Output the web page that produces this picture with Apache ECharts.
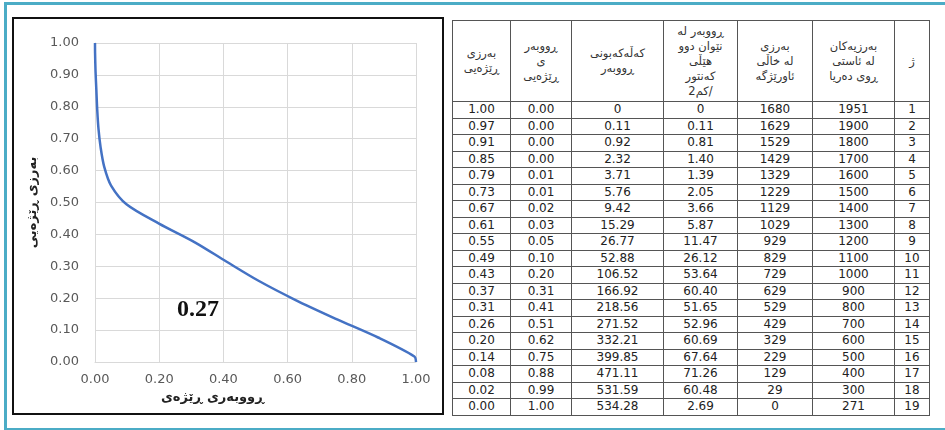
<!DOCTYPE html>
<html>
<head>
<meta charset="utf-8">
<script src="https://cdn.jsdelivr.net/npm/echarts@6/dist/echarts.min.js"></script>
<style>
html,body{margin:0;padding:0;background:#fff;width:945px;height:430px;overflow:hidden;}
#frame{position:absolute;left:4px;top:2px;width:960px;height:423px;border-left:3px solid #4bacc6;border-top:3px solid #4bacc6;border-bottom:3px solid #4bacc6;box-sizing:content-box;}
#chart{position:absolute;left:12px;top:17px;width:432px;height:398px;border:2px solid #111;box-sizing:border-box;background:#fff;}
#tbl{position:absolute;left:452px;top:20px;width:477px;border-collapse:collapse;table-layout:fixed;font-family:"DejaVu Sans",Verdana,sans-serif;color:#222;}
#tbl td{border:1px solid #555;text-align:center;padding:0;font-size:12px;height:15.5px;line-height:15px;overflow:hidden;white-space:nowrap;}
#tbl tr.hd td{height:80px;font-size:11.5px;line-height:15px;color:#333;white-space:normal;}
#tbl{border:1.5px solid #111;}
</style>
</head>
<body>
<div id="frame"></div>
<div id="chart"></div>
<table id="tbl"></table>
<script>
// ---- data ----
const headers = [
  "بەرزی<br>ڕێژەیی",
  "ڕووبەر<br>ی<br>ڕێژەیی",
  "کەڵەکەبونی<br>ڕووبەر",
  "ڕووبەر لە<br>نێوان دوو<br>هێڵی<br>کەنتور<br>/کم2",
  "بەرزی<br>لە خاڵی<br>ئاورێژگە",
  "بەرزیەکان<br>لە ئاستی<br>ڕوی دەریا",
  "ژ"
];
const relHeightText = ["1.00","0.97","0.91","0.85","0.79","0.73","0.67","0.61","0.55","0.49","0.43","0.37","0.31","0.26","0.20","0.14","0.08","0.02","0.00"];
const relAreaText   = ["0.00","0.00","0.00","0.00","0.01","0.01","0.02","0.03","0.05","0.10","0.20","0.31","0.41","0.51","0.62","0.75","0.88","0.99","1.00"];
const cumAreaText   = ["0","0.11","0.92","2.32","3.71","5.76","9.42","15.29","26.77","52.88","106.52","166.92","218.56","271.52","332.21","399.85","471.11","531.59","534.28"];
const areaText      = ["0","0.11","0.81","1.40","1.39","2.05","3.66","5.87","11.47","26.12","53.64","60.40","51.65","52.96","60.69","67.64","71.26","60.48","2.69"];
const heightAboveOutlet = ["1680","1629","1529","1429","1329","1229","1129","1029","929","829","729","629","529","429","329","229","129","29","0"];
const elevation     = ["1951","1900","1800","1700","1600","1500","1400","1300","1200","1100","1000","900","800","700","600","500","400","300","271"];
const rowNo         = ["1","2","3","4","5","6","7","8","9","10","11","12","13","14","15","16","17","18","19"];

// curve (hypsometric) values
const curveArea   = [0, 0.0002, 0.0017, 0.0043, 0.0069, 0.0108, 0.0176, 0.0286, 0.0501, 0.099, 0.1994, 0.3124, 0.409, 0.508, 0.6218, 0.7484, 0.8818, 0.995, 1.0];
const curveHeight = [1.0, 0.9696, 0.9101, 0.8506, 0.7911, 0.7315, 0.672, 0.6125, 0.553, 0.4935, 0.4339, 0.3744, 0.3149, 0.2554, 0.1958, 0.1363, 0.0768, 0.0173, 0.0];
const integralLabel = "0.27";
const xName = "ڕووبەری ڕێژەی";
const yName = "بەرزی ڕێژەیی";

// ---- table ----
const colW = [58, 61, 92, 74, 75, 82, 35];
const cols = [relHeightText, relAreaText, cumAreaText, areaText, heightAboveOutlet, elevation, rowNo];
const tbl = document.getElementById('tbl');
let html = '<colgroup>' + colW.map(w => '<col style="width:' + w + 'px">').join('') + '</colgroup>';
html += '<tr class="hd">' + headers.map(h => '<td dir="rtl">' + h + '</td>').join('') + '</tr>';
for (let i = 0; i < rowNo.length; i++) {
  html += '<tr>' + cols.map(c => '<td>' + c[i] + '</td>').join('') + '</tr>';
}
tbl.innerHTML = html;

// ---- chart ----
const chart = echarts.init(document.getElementById('chart'), null, {renderer: 'canvas'});
const lblStyle = {color: '#595959', fontSize: 13, fontFamily: 'DejaVu Sans'};
chart.setOption({
  animation: false,
  backgroundColor: '#fff',
  grid: {left: 81, right: 26, top: 24, bottom: 51, containLabel: false},
  xAxis: {
    type: 'value', min: 0, max: 1, interval: 0.2,
    name: xName, nameLocation: 'middle', nameGap: 27,
    nameTextStyle: {fontFamily: 'DejaVu Sans', fontWeight: 'bold', fontSize: 13, color: '#222', padding: [0, 86, 0, 0]},
    axisLine: {show: true, lineStyle: {color: '#d9d9d9', width: 1}},
    axisTick: {show: false},
    axisLabel: Object.assign({formatter: v => v.toFixed(2), margin: 11}, lblStyle),
    splitLine: {show: true, lineStyle: {color: '#d9d9d9', width: 1}}
  },
  yAxis: {
    type: 'value', min: 0, max: 1, interval: 0.1,
    name: yName, nameLocation: 'middle', nameGap: 53,
    nameTextStyle: {fontFamily: 'DejaVu Sans', fontWeight: 'bold', fontSize: 13, color: '#222'},
    axisLine: {show: true, lineStyle: {color: '#d9d9d9', width: 1}},
    axisTick: {show: false},
    axisLabel: Object.assign({formatter: v => v.toFixed(2), margin: 16}, lblStyle),
    splitLine: {show: true, lineStyle: {color: '#d9d9d9', width: 1}}
  },
  graphic: [{
    type: 'text', left: 163, top: 279,
    style: {text: integralLabel, font: 'bold 24px "Liberation Serif", serif', fill: '#111'}
  }],
  series: [{
    type: 'line',
    data: curveArea.map((x, i) => [x, curveHeight[i]]),
    smooth: 0.3,
    showSymbol: false,
    lineStyle: {color: '#4472c4', width: 2.5},
    itemStyle: {color: '#4472c4'}
  }]
});
</script>
</body>
</html>
